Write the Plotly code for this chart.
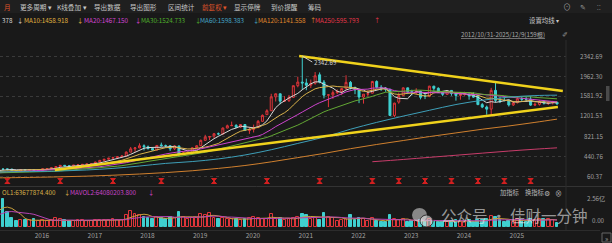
import pandas as pd
import plotly.graph_objects as go

# ---------------- DATA ----------------
months = pd.date_range("2012-10-01", periods=159, freq="MS")

open_ = [150,144,126, 132,123,120,107,113,117,114,111,107,103,101,92,
         83,85,91,93,98,103,110,116,119,121,121,127, 140,144,147,151,
         184,191,193,191,165,156,179,175,
         180,164,164,200,203,217,240,264,253,250,266,272,
         281,288,294,325,358,379,401,408,426,440,514,577,
         595,636,616,582,554,651,637,635,578,632,475,500,
         511,597,636,739,800,822,864,862,972,1016,1023,989,
         1040,925,946,980,1100,1228,1301,1565,1624,1484,1493,1557,
         1778,1846,1830,1788,1824,1985,1847,1598,1603,1646,1667,1723,
         1842,1748,1698,1562,1617,1635,1858,1748,1734,1712,1212,1466,
         1589,1737,1662,1656,1673,1582,1575,1769,1728,1653,1613,1688,
         1631,1592,1613,1617,1585,1595,1418,1372,1332,1689,1499,1498,
         1494,1412,1454,1528,1519,1520,1409,1423,1480,1445,1457,1464]
high_ = [155,146,135, 136,128,122,116,120,119,116,113,110,106,102,94,
         88,93,96,100,105,112,118,122,124,125,130,145, 150,150,156,190,
         199,202,198,198,169,180,183,182,
         180,170,204,210,219,243,269,269,256,269,279,282,
         296,304,332,362,385,404,427,435,452,529,613,612,
         682,662,640,597,648,695,658,648,641,637,528,520,
         606,645,753,844,823,879,888,985,1038,1095,1046,1046,
         1046,976,1038,1126,1231,1330,1624,1628,1628,1579,1602,1780,
         1949,2342.69,1913,1895,2038,2030,1886,1617,1689,1707,1734,1976,
         1868,1752,1707,1617,1689,1871,1880,1789,1748,1716,1453,1647,
         1748,1739,1702,1730,1684,1635,1775,1775,1747,1672,1691,1691,
         1634,1625,1663,1634,1653,1602,1448,1399,1737,1843,1563,1569,
         1500,1471,1579,1569,1569,1580,1460,1500,1490,1480,1490,1470]
low_ = [138,122,120, 120,115,104,103,110,108,106,103,100,98,90,80,
        78,84,88,91,96,101,108,114,116,117,119,125, 136,140,143,150,
        177,169,169,152,156,155,169,171,
        156,159,162,198,198,212,235,248,242,248,261,267,
        277,286,290,322,353,370,388,401,418,435,512,520,
        589,546,565,546,550,619,606,537,554,444,459,476,
        507,589,632,736,745,774,835,844,967,1011,976,972,
        923,862,888,976,1099,1228,1299,1477,1425,1468,1468,1548,
        1748,1700,1692,1735,1797,1824,1536,1370,1527,1617,1599,1707,
        1707,1617,1446,1437,1572,1635,1725,1680,1662,1205,1181,1435,
        1582,1619,1592,1619,1518,1523,1560,1682,1644,1579,1607,1587,
        1493,1512,1587,1512,1549,1409,1351,1226,1202,1457,1448,1481,
        1382,1392,1441,1471,1471,1395,1390,1400,1420,1410,1420,1420]
close_ = [144,126,132, 123,120,107,113,117,114,111,107,103,101,92,83,
          85,91,93,98,103,110,116,119,121,121,127,140, 144,147,151,184,
          191,190,191,165,156,179,175,180,
          164,164,200,203,217,240,264,253,250,266,272,281,
          288,294,325,358,379,399,408,426,440,514,577,595,
          636,616,582,554,641,637,635,578,632,475,500,511,
          597,636,739,800,810,864,862,972,1016,1023,989,1040,
          925,946,980,1100,1214,1301,1565,1624,1484,1493,1557,1778,
          1846,1830,1788,1824,1966,1847,1598,1603,1646,1667,1723,1842,
          1748,1698,1562,1617,1625,1858,1748,1734,1712,1212,1447,1589,
          1737,1662,1656,1673,1558,1575,1769,1728,1653,1613,1670,1631,
          1592,1613,1617,1585,1562,1418,1372,1332,1689,1499,1475,1494,
          1412,1454,1528,1519,1518,1409,1423,1480,1445,1457,1464,1430]
# monthly volume, millions of shares
volume_m = [40,45,50, 55,45,60,50,45,40,40,45,50,45,50,70,
            60,75,70,60,55,65,60,65,50,55,90,110, 120,100,140,200,
            180,255,135,80,55,60,62,60,
            72,55,62,55,60,80,72,62,55,58,60,62,
            58,55,62,65,62,65,70,60,62,110,150,120,
            110,95,80,70,90,85,70,90,80,140,95,70,
            80,85,120,110,130,85,70,80,75,70,75,65,
            70,80,95,80,75,75,120,70,80,60,75,85,
            95,120,110,70,80,65,130,95,80,55,60,70,
            110,65,80,75,55,80,55,45,45,110,75,60,
            70,50,55,55,60,55,70,55,50,55,45,55,
            65,45,50,60,45,65,60,75,100,90,60,50,
            55,50,75,60,50,75,60,75,70,70,65,40]

# long moving averages (history before the loaded range)
ma_long_dates = ["2015-01-01","2015-05-01","2016-01-01","2016-07-01","2017-01-01","2017-07-01",
                 "2018-01-01","2018-07-01","2019-01-01","2019-07-01","2020-01-01","2020-07-01",
                 "2021-01-01","2021-07-01","2022-01-01","2022-07-01","2023-01-01","2023-07-01",
                 "2024-01-01","2024-07-01","2025-01-01","2025-07-01","2025-12-01"]
ma60_vals = [125,137,145,155,175,205,250,300,335,385,460,560,680,800,950,1080,1200,1310,1420,1500,1560,1590,1598]
ma120_vals = [20,25,35,45,58,75,98,125,160,205,260,330,410,490,580,660,735,810,880,950,1012,1080,1142]
ma250_dates = ["2022-06-01","2023-01-01","2023-07-01","2024-01-01","2024-07-01","2025-01-01","2025-07-01","2025-12-01"]
ma250_vals = [332,375,415,455,495,535,570,596]

# hand-drawn trend lines
trend_upper_dates = ["2021-01-10", "2026-01-10"]
trend_upper_prices = [2342.69, 1677]
trend_lower_dates = ["2016-05-25", "2025-12-07"]
trend_lower_prices = [174, 1373]

# ex-dividend months
exdiv_months = ["2015-07-01","2016-07-01","2017-07-01","2018-06-01","2019-06-01","2020-06-01",
                "2021-06-01","2022-06-01","2022-12-01","2023-06-01","2023-12-01","2024-06-01",
                "2024-12-01","2025-06-01"]

price_ticks = [60.37, 440.76, 821.15, 1201.53, 1581.92, 1962.30, 2342.69]
year_ticks = ["2016","2017","2018","2019","2020","2021","2022","2023","2024","2025"]

toolbar_items = ["月", "更多周期 ▾", "K线叠加 ▾", "导出数据", "导出图形", "区间统计", "前复权 ▾", "显示停牌", "到价提醒", "筹码"]
ma_labels = ["378", "MA10:1458.918", "MA20:1467.150", "MA30:1524.733", "MA60:1598.383", "MA120:1141.558", "MA250:595.793"]
ma_arrows = ["↓", "↓", "↓", "↓", "↓", "↑", "↑"]
vol_labels = ["OL1:63677874.400", "MAVOL2:64080203.800"]
vol_arrows = ["↓", "↓"]
range_text = "2012/10/31-2025/12/9(159根)"
vol_axis_labels = ["2.56亿", "0.00"]
vol_axis_vals = [256, 0]
watermark = "公众号 · 佳财一分钟"

# ---------------- STYLE ----------------
W, H = 612, 243
BG = "#191919"
RED = "#e0353a"
CYAN = "#3fd0d0"
FONT = "Noto Sans CJK SC"
C_MA = ["#d8d8d8", "#d9b24a", "#cc44cc", "#63a834", "#3e9fb8", "#d0802e", "#c83c6a"]
C_LBL = ["#d8d8d8", "#e0b440", "#d545d5", "#4fb02c", "#45a6c8", "#e08a2c", "#e8374a"]

def px(x):
    return x / W

def py(y):
    return 1 - y / H

PLOT_R = 566
x_dom = [0, PLOT_R / W]
price_dom = [py(186), py(26)]
vol_dom = [py(227), py(197)]

fig = go.Figure()

s_close = pd.Series(close_)
for n, col in zip([5, 10, 20, 30], C_MA[:4]):
    ma = s_close.rolling(n).mean()
    fig.add_trace(go.Scatter(x=months, y=ma, mode="lines", line=dict(color=col, width=1),
                             hoverinfo="skip", yaxis="y"))
fig.add_trace(go.Scatter(x=ma_long_dates, y=ma60_vals, mode="lines", line=dict(color=C_MA[4], width=1, shape="spline"), yaxis="y"))
fig.add_trace(go.Scatter(x=ma_long_dates, y=ma120_vals, mode="lines", line=dict(color=C_MA[5], width=1, shape="spline"), yaxis="y"))
fig.add_trace(go.Scatter(x=ma250_dates, y=ma250_vals, mode="lines", line=dict(color=C_MA[6], width=1, shape="spline"), yaxis="y"))

fig.add_trace(go.Candlestick(
    x=months, open=open_, high=high_, low=low_, close=close_,
    increasing=dict(line=dict(color=RED, width=1), fillcolor=BG),
    decreasing=dict(line=dict(color=CYAN, width=1), fillcolor=CYAN),
    whiskerwidth=0, yaxis="y", xaxis="x"))

fig.add_trace(go.Scatter(x=trend_upper_dates, y=trend_upper_prices, mode="lines",
                         line=dict(color="#f0d21c", width=2.5), yaxis="y"))
fig.add_trace(go.Scatter(x=trend_lower_dates, y=trend_lower_prices, mode="lines",
                         line=dict(color="#f0d21c", width=2.5), yaxis="y"))

fig.add_trace(go.Scatter(x=exdiv_months, y=[-35] * len(exdiv_months), mode="markers",
                         marker=dict(symbol="hourglass", size=5, color="#d42020",
                                     line=dict(color="#d42020", width=1)), yaxis="y"))

# volume
up = [c >= o for o, c in zip(open_, close_)]
fig.add_trace(go.Bar(x=months, y=volume_m, yaxis="y2",
                     width=20 * 86400000,
                     marker=dict(color=[BG if u else CYAN for u in up],
                                 line=dict(color=[RED if u else CYAN for u in up], width=1))))
s_vol = pd.Series(volume_m)
fig.add_trace(go.Scatter(x=months, y=s_vol.rolling(5).mean(), mode="lines",
                         line=dict(color="#c9a03c", width=1), yaxis="y2"))
fig.add_trace(go.Scatter(x=months, y=s_vol.rolling(10).mean(), mode="lines",
                         line=dict(color="#b544b5", width=1), yaxis="y2"))

ann = []
def text(t, x, y, color, size=6.3, xanchor="left", yanchor="middle", **kw):
    ann.append(dict(text=t, x=px(x), y=py(y), xref="paper", yref="paper", showarrow=False,
                    xanchor=xanchor, yanchor=yanchor, font=dict(family=FONT, size=size, color=color), **kw))

# toolbar
tb_x = [2, 18, 55, 92, 128, 166, 200, 232, 269, 306]
for t, x in zip(toolbar_items, tb_x):
    col = "#e0552a" if t in ("月",) or t.startswith("前复权") else "#c8c8c8"
    text(t, x, 6.5, col, size=6.6)
text("⊙", 567, 6.5, "#9a9a9a", size=8, xanchor="center")
text("✎", 583, 6.5, "#9a9a9a", size=7, xanchor="center")
text("⁚⁚", 599, 6.5, "#9a9a9a", size=7, xanchor="center")

# MA row
lbl_x = [0, 22, 82, 139, 198, 256, 313]
arr_x = [15, 75, 133, 193, 251, 308, 372]
for t, a, x, ax, c in zip(ma_labels, ma_arrows, lbl_x, arr_x, C_LBL):
    text(t, x, 21, c)
    text(a, ax, 21, c)
text("设置均线 ▾", 527, 21, "#c8c8c8", size=6.4)
text("<u>" + range_text + "</u>", 459, 34, "#a8a8a8", size=6.2)
text("✐", 565, 34, "#9a9a9a", size=6.5, xanchor="center")

# price axis labels
for v in price_ticks:
    ann.append(dict(text=f"{v:.2f}", x=px(605), y=v, xref="paper", yref="y", showarrow=False,
                    xanchor="right", yanchor="middle", font=dict(family=FONT, size=6.2, color="#a0a0a0")))

# peak label
imax = max(range(len(high_)), key=lambda i: high_[i])
ann.append(dict(text=f"{high_[imax]:.2f}", x=months[imax], y=high_[imax], xref="x", yref="y",
                showarrow=True, arrowhead=0, arrowwidth=1, arrowcolor="#cccccc", ax=10, ay=6,
                xanchor="left", yanchor="middle", font=dict(family=FONT, size=6.2, color="#d0d0d0")))

# volume header
text(vol_labels[0], 0, 192.5, "#d9b24a")
text(vol_arrows[0], 62, 192.5, "#d9b24a")
text(vol_labels[1], 68, 192.5, "#cc44cc")
text(vol_arrows[1], 146, 192.5, "#cc44cc")
text("加指标", 498, 192.5, "#b8b8b8", size=6.3)
text("换指标", 523, 192.5, "#b8b8b8", size=6.3)
text("⚙", 547, 192.5, "#b8b8b8", size=7, xanchor="center")
text("⊗", 558, 192.5, "#b8b8b8", size=7, xanchor="center")

ann.append(dict(text=vol_axis_labels[0], x=px(607), y=vol_axis_vals[0], xref="paper", yref="y2", showarrow=False,
                xanchor="right", yanchor="middle", font=dict(family=FONT, size=6.2, color="#a0a0a0")))
ann.append(dict(text=vol_axis_labels[1], x=px(607), y=vol_axis_vals[1], xref="paper", yref="y2", showarrow=False,
                xanchor="right", yanchor="bottom", yshift=0, font=dict(family=FONT, size=6.2, color="#a0a0a0")))

# watermark
text(watermark, 439, 215, "rgba(235,235,235,0.62)", size=15.5)
text("»", 606.5, 237.5, "#a0a0a0", size=7, xanchor="center")

shapes = [
    dict(type="rect", xref="paper", yref="paper", x0=0, x1=1, y0=py(13), y1=1,
         fillcolor="#1f1f1f", line=dict(width=0), layer="below"),
    dict(type="line", xref="paper", yref="paper", x0=0, x1=1, y0=py(186.5), y1=py(186.5),
         line=dict(color="#333333", width=1)),
    dict(type="line", xref="paper", yref="paper", x0=px(PLOT_R), x1=px(PLOT_R), y0=py(40), y1=py(231),
         line=dict(color="#2c2c2c", width=1)),
    dict(type="line", xref="paper", yref="paper", x0=0, x1=px(600), y0=py(230.5), y1=py(230.5),
         line=dict(color="#2c2c2c", width=1)),
    dict(type="rect", xref="paper", yref="paper", x0=px(606), x1=px(609.5), y0=py(101), y1=py(86),
         fillcolor="#4a4a4a", line=dict(width=0)),
    dict(type="rect", xref="paper", yref="paper", x0=px(602), x1=px(611), y0=py(242), y1=py(233),
         fillcolor="rgba(0,0,0,0)", line=dict(color="#666666", width=1)),
    # wechat logo
    dict(type="circle", xref="paper", yref="paper", x0=px(412), x1=px(427), y0=py(222), y1=py(208),
         fillcolor="rgba(225,225,225,0.55)", line=dict(width=0)),
    dict(type="circle", xref="paper", yref="paper", x0=px(420), x1=px(433), y0=py(227), y1=py(215),
         fillcolor="rgba(225,225,225,0.6)", line=dict(color="rgba(25,25,25,0.8)", width=1)),
]

fig.update_layout(
    width=W, height=H, autosize=False,
    margin=dict(l=0, r=0, t=0, b=0, pad=0),
    paper_bgcolor=BG, plot_bgcolor=BG,
    showlegend=False,
    annotations=ann, shapes=shapes,
    xaxis=dict(domain=x_dom, anchor="y2", type="date",
               range=["2015-05-11", "2026-02-01"],
               rangeslider=dict(visible=False),
               tickvals=[f"{y}-01-01" for y in year_ticks], ticktext=year_ticks,
               tickfont=dict(family=FONT, size=6.5, color="#a0a0a0"),
               ticks="", ticklabelshift=8, ticklabelstandoff=3,
               showgrid=False, zeroline=False, showline=False, fixedrange=True),
    yaxis=dict(domain=price_dom, range=[-129.8, 2913.4], side="right",
               tickvals=price_ticks, showticklabels=False, ticks="",
               showgrid=True, gridcolor="#3a3a3a", griddash="dot", gridwidth=1,
               zeroline=False, showline=False, fixedrange=True),
    yaxis2=dict(domain=vol_dom, range=[0, 274], anchor="x", side="right",
                showticklabels=False, showgrid=False, zeroline=False, ticks="", fixedrange=True),
    bargap=0, hovermode=False,
)

fig.write_html("out.html")
